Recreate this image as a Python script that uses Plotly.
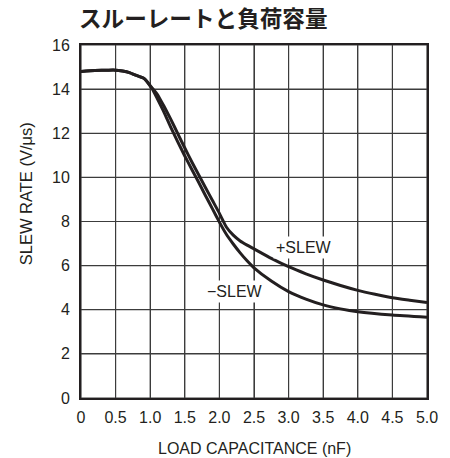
import plotly.graph_objects as go

# Load capacitance (nF) and slew rate (V/us) for each edge
cap_pos = [0.0, 0.2, 0.4, 0.5, 0.6, 0.7, 0.8, 0.9, 0.95, 1.0, 1.035, 1.1, 1.2, 1.3,
           1.4, 1.5, 1.6, 1.7, 1.8, 1.9, 2.0, 2.05, 2.1, 2.2, 2.3, 2.4, 2.5,
           2.75, 3.0, 3.25, 3.5, 3.75, 4.0, 4.25, 4.5, 4.75, 5.0]
slew_pos = [14.80, 14.84, 14.86, 14.86, 14.82, 14.75, 14.62, 14.50, 14.36, 14.16, 14.03,
            13.78, 13.22, 12.62, 11.97, 11.33, 10.71, 10.12, 9.53, 8.95, 8.37, 8.05,
            7.75, 7.38, 7.12, 6.93, 6.76, 6.33, 5.95, 5.63, 5.35, 5.1, 4.88, 4.7,
            4.54, 4.43, 4.33]

cap_neg = [0.0, 0.2, 0.4, 0.5, 0.6, 0.7, 0.8, 0.9, 0.95, 1.0, 1.035, 1.1, 1.2,
           1.3, 1.4, 1.5, 1.6, 1.7, 1.8, 1.9, 2.0, 2.1, 2.2, 2.3, 2.4, 2.5, 2.75,
           3.0, 3.25, 3.5, 3.75, 4.0, 4.5, 5.0]
slew_neg = [14.80, 14.84, 14.86, 14.86, 14.82, 14.75, 14.62, 14.50, 14.36, 14.14, 13.98,
            13.58, 12.95, 12.25, 11.6, 10.97, 10.37, 9.78, 9.17, 8.57, 7.97, 7.42,
            6.98, 6.58, 6.22, 5.9, 5.3, 4.82, 4.48, 4.22, 4.04, 3.91, 3.76, 3.66]

x_ticks = [0, 0.5, 1.0, 1.5, 2.0, 2.5, 3.0, 3.5, 4.0, 4.5, 5.0]
x_labels = ["0", "0.5", "1.0", "1.5", "2.0", "2.5", "3.0", "3.5", "4.0", "4.5", "5.0"]
y_ticks = [0, 2, 4, 6, 8, 10, 12, 14, 16]

FONT = "Liberation Sans, Arial, sans-serif"
INK = "#231f20"
GRID = "#3c3c3c"

fig = go.Figure()

# grid at every tick as one broken polyline, drawn beneath the curves
gx, gy = [], []
for xv in x_ticks:
    gx += [xv, xv, None]
    gy += [y_ticks[0], y_ticks[-1], None]
for yv in y_ticks:
    gx += [x_ticks[0], x_ticks[-1], None]
    gy += [yv, yv, None]
fig.add_trace(go.Scatter(x=gx, y=gy, mode="lines",
                         line=dict(color=GRID, width=1.2),
                         showlegend=False, hoverinfo="skip", connectgaps=False))

for xs, ys in [(cap_pos, slew_pos), (cap_neg, slew_neg)]:
    fig.add_trace(go.Scatter(
        x=xs, y=ys, mode="lines",
        line=dict(color=INK, width=3, shape="spline", smoothing=0.5),
        showlegend=False, hoverinfo="skip",
    ))

# curve labels with white boxes over the grid
fig.add_annotation(x=3.22, y=6.80, text="+SLEW", showarrow=False,
                   font=dict(family=FONT, size=16, color=INK),
                   bgcolor="white", borderpad=2)
fig.add_annotation(x=2.22, y=4.82, text="−SLEW", showarrow=False,
                   font=dict(family=FONT, size=16, color=INK),
                   bgcolor="white", borderpad=2)

# axis titles
fig.add_annotation(xref="paper", yref="paper", x=0.5, y=-0.142,
                   text="LOAD CAPACITANCE (nF)", showarrow=False,
                   xanchor="center", yanchor="middle",
                   font=dict(family=FONT, size=16, color=INK))
fig.add_annotation(xref="paper", yref="paper", x=-0.158, y=0.578,
                   text="SLEW RATE (V/μs)", showarrow=False, textangle=-90,
                   xanchor="center", yanchor="middle",
                   font=dict(family=FONT, size=16.5, color=INK))

fig.update_layout(
    width=450, height=458,
    margin=dict(l=81, r=15, t=45, b=60),
    paper_bgcolor="white", plot_bgcolor="white",
    title=dict(text="<b>スルーレートと負荷容量</b>", x=79 / 450, xanchor="left",
               y=1 - 19 / 458, yanchor="middle",
               font=dict(family="Noto Sans CJK JP", size=22.6, color=INK)),
)
fig.update_xaxes(range=[0, 5], tickvals=x_ticks, ticktext=x_labels,
                 showgrid=True, gridcolor=GRID, gridwidth=1,
                 showline=True, linecolor=INK, linewidth=2,
                 mirror=True, ticks="", zeroline=False, ticklabelstandoff=4,
                 tickfont=dict(family=FONT, size=16, color=INK))
fig.update_yaxes(range=[0, 16], tickvals=y_ticks,
                 showgrid=True, gridcolor=GRID, gridwidth=1,
                 showline=True, linecolor=INK, linewidth=2,
                 mirror=True, ticks="", zeroline=False, ticklabelstandoff=6,
                 tickfont=dict(family=FONT, size=16, color=INK))

fig.write_html("out.html")
